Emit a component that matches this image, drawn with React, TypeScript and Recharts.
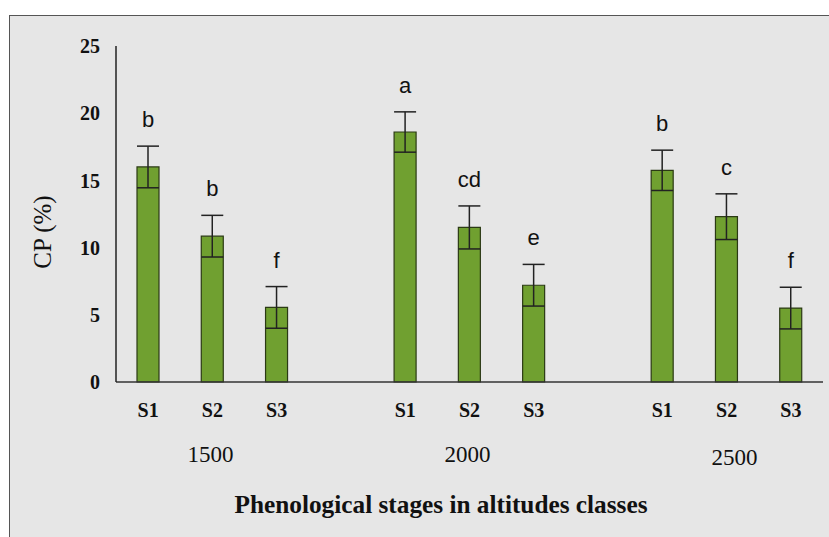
import React from 'react';
import { BarChart, Bar, XAxis, YAxis, ErrorBar, LabelList } from 'recharts';

// slot layout: three stages per altitude, with an empty slot between altitudes
const stages = ['S1', 'S2', 'S3', '', 'S1', 'S2', 'S3', '', 'S1', 'S2', 'S3'];
const altitudes = ['', '1500', '', '', '', '2000', '', '', '', '2500', ''];
const cpValues = [16.0, 10.85, 5.55, null, 18.6, 11.5, 7.2, null, 15.75, 12.3, 5.5];
const cpErrors = [1.55, 1.55, 1.55, null, 1.5, 1.6, 1.55, null, 1.5, 1.7, 1.55];
const letters = ['b', 'b', 'f', '', 'a', 'cd', 'e', '', 'b', 'c', 'f'];
const yTicks = [0, 5, 10, 15, 20, 25];

const data = stages.map((s, i) => ({
  slot: `${i}`,
  stage: s,
  altitude: altitudes[i],
  cp: cpValues[i],
  err: cpErrors[i] ?? undefined,
  letter: letters[i],
}));

const serif = '"Liberation Serif", "Times New Roman", serif';

const StageTick = (props: any) => {
  const { x, y, payload } = props;
  const i = Number(payload.value);
  const alt = altitudes[i];
  return (
    <g>
      <text x={x} y={y + 33} textAnchor="middle" fontFamily={serif} fontWeight="bold" fontSize={20} fill="#111">
        {stages[i]}
      </text>
      {alt && (
        <text
          x={x + (alt === '2500' ? 8 : -2)}
          y={y + (alt === '2500' ? 81 : 78)}
          textAnchor="middle"
          fontFamily={serif}
          fontSize={23}
          fill="#111"
        >
          {alt}
        </text>
      )}
    </g>
  );
};

// value is the slot index (LabelList dataKey="slot")
const LetterLabel = (props: any) => {
  const { x, y, width, height, value } = props;
  const i = Number(value);
  const v = cpValues[i];
  const e = cpErrors[i];
  if (v == null || e == null || !letters[i]) return null;
  const pxPerUnit = height / v;
  const top = y - e * pxPerUnit;
  return (
    <text
      x={x + width / 2}
      y={top - 19}
      textAnchor="middle"
      fontFamily='"Liberation Sans", Arial, sans-serif'
      fontSize={22}
      fill="#111"
    >
      {letters[i]}
    </text>
  );
};

export default function App() {
  return (
    <div style={{ position: 'absolute', left: 0, top: 0, width: 829, height: 537, background: '#fff', overflow: 'hidden' }}>
      <div
        style={{
          position: 'absolute',
          left: 9,
          top: 15,
          width: 829,
          height: 537,
          background: '#e6e6e6',
          borderTop: '1.5px solid #555',
          borderLeft: '1.5px solid #555',
        }}
      />
      <div style={{ position: 'absolute', left: 0, top: 0 }}>
        <BarChart width={829} height={537} data={data} margin={{ top: 46, right: 6, bottom: 0, left: 0 }} barSize={22}>
          <XAxis
            dataKey="slot"
            interval={0}
            height={155}
            tickSize={0}
            tickLine={false}
            axisLine={{ stroke: '#333', strokeWidth: 1.5 }}
            tick={<StageTick />}
          />
          <YAxis
            width={116}
            domain={[0, 25]}
            ticks={yTicks}
            tickSize={0}
            tickMargin={16}
            tickLine={false}
            axisLine={{ stroke: '#222', strokeWidth: 1.5 }}
            tick={{ fontFamily: serif, fontWeight: 'bold', fontSize: 20, fill: '#111' }}
          />
          <Bar dataKey="cp" fill="#70a030" stroke="#2b3a14" strokeWidth={1.2} isAnimationActive={false}>
            <ErrorBar dataKey="err" width={11} stroke="#222" strokeWidth={1.5} direction="y" />
            <LabelList dataKey="slot" content={<LetterLabel />} />
          </Bar>
          <text
            x={42}
            y={232}
            transform="rotate(-90 42 232)"
            textAnchor="middle"
            dominantBaseline="central"
            fontFamily={serif}
            fontSize={25}
            fill="#111"
          >
            CP (%)
          </text>
          <text
            x={441}
            y={513}
            textAnchor="middle"
            fontFamily={serif}
            fontWeight="bold"
            fontSize={26}
            fill="#111"
            textLength={413}
            lengthAdjust="spacingAndGlyphs"
          >
            Phenological stages in altitudes classes
          </text>
        </BarChart>
      </div>
    </div>
  );
}
